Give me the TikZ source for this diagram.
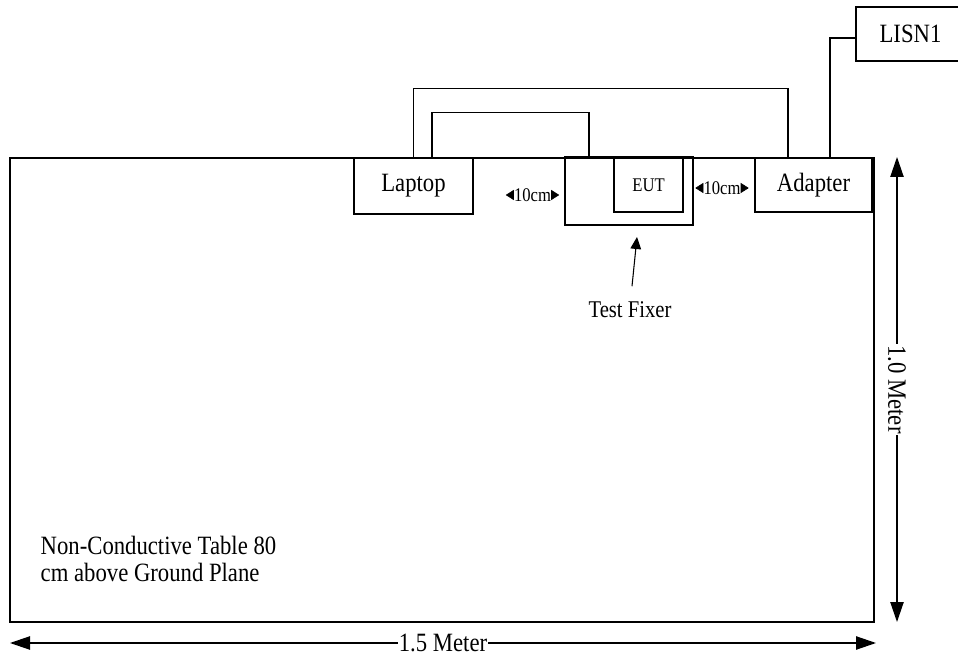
\documentclass[tikz,border=0pt]{standalone}
\usepackage{fontspec}
\setmainfont{Liberation Serif}[FakeStretch=0.86]
\usepackage{tikz}
\usetikzlibrary{arrows.meta,calc}

\begin{document}
\begin{tikzpicture}[x=0.75pt,y=-0.75pt,
  box/.style={draw,line width=1pt,inner sep=0pt,font=\fontsize{19.8}{20}\selectfont},
  cable/.style={line width=0.8pt},
  gap/.style={inner ysep=0pt,inner xsep=6pt,font=\fontsize{14.5}{16}\selectfont},
  gaptip/.style={-{Triangle[length=6pt,width=7.5pt]}},
  dim/.style={line width=1pt,{Triangle[length=15pt,width=10pt]}-{Triangle[length=15pt,width=10pt]}},
  lbl/.style={font=\fontsize{19.8}{20.25}\selectfont}]
  \useasboundingbox (0,0) rectangle (958,659);
  % Table
  \draw[line width=2pt] (10,158) rectangle (874,622);
  \node[lbl,align=left,anchor=west] (tabletext) at (36,558.5) {Non-Conductive Table 80\\cm above Ground Plane};
  % Equipment on the table
  \node[box,minimum width=89.25pt,minimum height=42pt] (laptop) at (413.5,186) {Laptop};
  \node[box,minimum width=96pt,minimum height=51pt] (fixture) at (629,191) {};
  \node[box,minimum width=51.75pt,minimum height=40.5pt,font=\fontsize{14.5}{16}\selectfont] (eut) at (648.5,185) {EUT};
  \node[box,minimum width=87.75pt,minimum height=40.5pt] (adapter) at (813.5,185) {Adapter};
  \node[box,minimum width=81.75pt,minimum height=40.5pt] (lisn) at (910.5,34) {LISN1};
  % 10cm spacings
  \node[gap] (gapl) at (532.5,195) {10cm};
  \draw[gaptip] ($(gapl.west)+(1,0)$) -- (gapl.west);
  \draw[gaptip] ($(gapl.east)+(-1,0)$) -- (gapl.east);
  \node[gap] (gapr) at (722,188) {10cm};
  \draw[gaptip] ($(gapr.west)+(1,0)$) -- (gapr.west);
  \draw[gaptip] ($(gapr.east)+(-1,0)$) -- (gapr.east);
  % Cables
  \draw[cable] (laptop.north) -- ++(0,-69) -| ($(adapter.north)+(-25.5,0)$);
  \draw[cable] ($(laptop.north)+(18.5,0)$) -- ++(0,-45) -| ($(fixture.north)+(-40,0)$);
  \draw[line width=2pt] ($(adapter.north)+(16.5,0)$) |- ($(lisn.west)+(0,4)$);
  % Test fixer pointer
  \node[font=\fontsize{18}{20}\selectfont] (tflabel) at (630,310) {Test Fixer};
  \coordinate (tftip) at (637,237);
  \draw[line width=0.8pt,-{Triangle[length=9pt,width=8pt]}] ($(tflabel.north)+(2,-11)$) -- (tftip);
  % Dimensions
  \coordinate (wl) at (10,643);
  \coordinate (wr) at (876,643);
  \draw[dim] (wl) -- (wr) node[midway,fill=white,inner sep=1pt,lbl] {1.5 Meter};
  \coordinate (ht) at (897,157);
  \coordinate (hb) at (897,622);
  \draw[dim] (ht) -- (hb) node[midway,fill=white,inner sep=1pt,lbl,rotate=-90] {1.0 Meter};
\end{tikzpicture}
\end{document}
